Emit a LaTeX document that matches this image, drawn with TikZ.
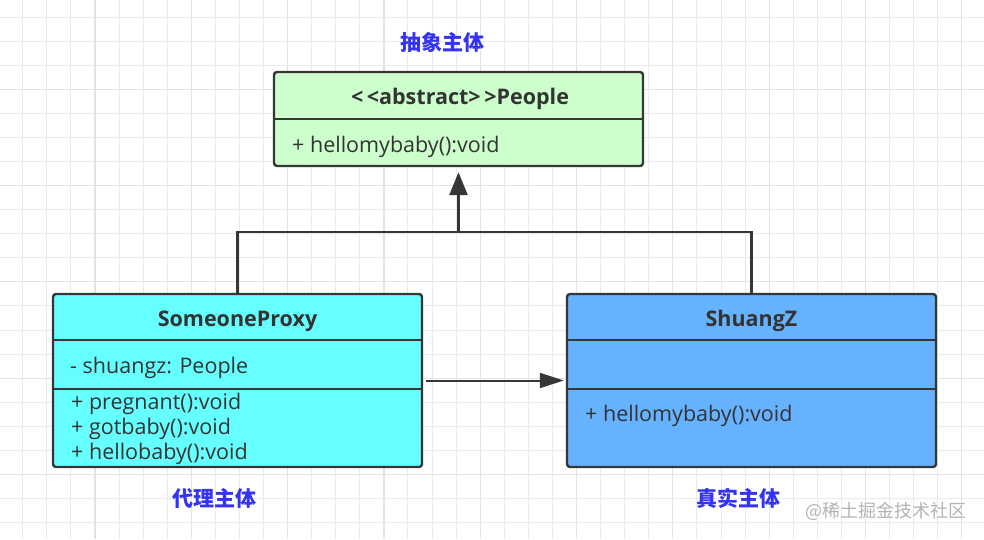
\documentclass[tikz,border=0pt]{standalone}
\usepackage{fontspec}
\setmainfont{Open Sans}
\newfontfamily\cjk{Noto Sans CJK SC}
\usetikzlibrary{arrows.meta}

\definecolor{gridgray}{HTML}{EAEAEA}
\definecolor{gridgrayb}{HTML}{E3E3E3}
\definecolor{linegray}{HTML}{363636}
\definecolor{textgray}{HTML}{333333}
\definecolor{peoplegreen}{HTML}{CCFFCC}
\definecolor{proxycyan}{HTML}{66FFFF}
\definecolor{realblue}{HTML}{66B2FF}
\definecolor{labelblue}{HTML}{3434F0}
\definecolor{markgray}{HTML}{B4B4B4}

\begin{document}
\begin{tikzpicture}[x=1pt,y=-1pt,
	classbox/.style={draw=linegray, line width=2.4pt, rounded corners=3pt, minimum width=369, inner sep=0pt},
	headtext/.style={text=textgray, font=\fontsize{21.5}{25}\selectfont\bfseries, inner sep=0pt},
	membertext/.style={text=textgray, font=\fontsize{21.5}{25}\selectfont, inner sep=0pt, anchor=west},
	cnlabel/.style={text=labelblue, font=\cjk\fontsize{21}{25}\selectfont\bfseries, inner sep=0pt},
	connector/.style={draw=linegray, line width=2.6pt}]
	\useasboundingbox (0,0) rectangle (984,539);
	\fill[white] (0,0) rectangle (984,539);

	% grid
	\foreach \i in {0,...,39}
		\draw[gridgray, line width=1pt] (22.7+24.08*\i,0) -- ++(0,539);
	\foreach \j in {0,...,21}
		\draw[gridgray, line width=1pt] (0,17+24.08*\j) -- ++(984,0);
	\foreach \i in {3,7,...,39}
		\draw[gridgrayb, line width=1.2pt] (22.7+24.08*\i,0) -- ++(0,539);
	\foreach \j in {3,7,...,19}
		\draw[gridgrayb, line width=1.2pt] (0,17+24.08*\j) -- ++(984,0);

	% classes
	\node[classbox, fill=peoplegreen, minimum height=94] (people) at (458.5,119) {};
	\node[classbox, fill=proxycyan, minimum height=173] (proxy) at (237.5,380.5) {};
	\node[classbox, fill=realblue, minimum height=173] (real) at (751.5,380.5) {};

	\draw[linegray, line width=2.4pt] ([yshift=-48pt]people.north west) -- ([yshift=-48pt]people.north east);
	\draw[linegray, line width=2.4pt] ([yshift=-47pt]proxy.north west) -- ([yshift=-47pt]proxy.north east);
	\draw[linegray, line width=2.4pt] ([yshift=-96pt]proxy.north west) -- ([yshift=-96pt]proxy.north east);
	\draw[linegray, line width=2.4pt] ([yshift=-47pt]real.north west) -- ([yshift=-47pt]real.north east);
	\draw[linegray, line width=2.4pt] ([yshift=-96pt]real.north west) -- ([yshift=-96pt]real.north east);

	% texts
	\node[headtext] (peoplename) at (460,99) {<\,<abstract>\,>People};
	\node[membertext] (peopleop) at (292,147) {+\ hellomybaby():void};

	\node[headtext] (proxyname) at (237.5,321) {SomeoneProxy};
	\node[membertext] (proxyattr) at (70,368) {-\ shuangz: People};
	\node[membertext] (proxyopa) at (71,404) {+\ pregnant():void};
	\node[membertext] (proxyopb) at (71,429) {+\ gotbaby():void};
	\node[membertext] (proxyopc) at (71,454) {+\ hellobaby():void};

	\node[headtext] (realname) at (751.5,321) {ShuangZ};
	\node[membertext] (realop) at (585,416) {+\ hellomybaby():void};

	\node[cnlabel] (peoplelabel) at (442.5,42) {抽象主体};
	\node[cnlabel] (proxylabel) at (214.5,498) {代理主体};
	\node[cnlabel] (reallabel) at (738.5,498) {真实主体};
	\node[text=markgray, font=\cjk\fontsize{18}{22}\selectfont, inner sep=0pt] (mark) at (886,511) {@稀土掘金技术社区};

	% connectors
	\coordinate (bus) at (458.5,232);
	\draw[connector] (proxy.north) |- (bus) -| (real.north);
	\draw[connector, -{Triangle[width=18pt,length=23pt]}, shorten >=5pt] (bus) -- (people.south);
	\draw[draw=linegray, line width=2pt, -{Triangle[width=15pt,length=24pt]}, shorten <=3pt, shorten >=2pt] (proxy.east) -- (real.west);
\end{tikzpicture}
\end{document}
